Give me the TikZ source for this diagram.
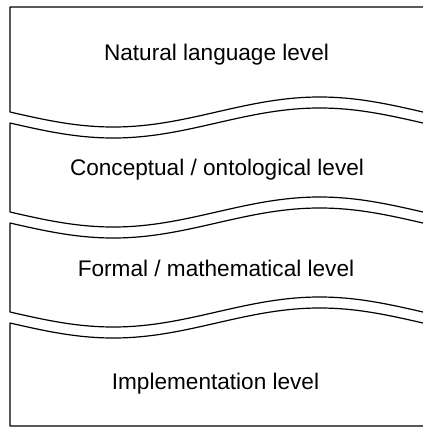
\documentclass[tikz,border=0pt]{standalone}
\usepackage{fontspec}
\setmainfont{Liberation Sans}
\begin{document}
\begin{tikzpicture}[x=1bp,y=-1bp,
  edge/.style={line width=1.2bp, black, line join=round},
  leveltext/.style={anchor=base, inner sep=0pt, font=\fontsize{22.6bp}{27bp}\selectfont},
  declare function={wave(\t)=15*sin(0.871671*(\t-10));}]
\useasboundingbox[fill=white] (0,0) rectangle (423,429);

% top band
\draw[edge] (423,7) -- (10,7) -- (10,112)
  -- plot[domain=10:423,samples=90,smooth] (\x,{112+wave(\x)});
% second band
\draw[edge] plot[domain=423:10,samples=90,smooth] (\x,{123+wave(\x)})
  -- (10,212) -- plot[domain=10:423,samples=90,smooth] (\x,{212+wave(\x)});
% third band
\draw[edge] plot[domain=423:10,samples=90,smooth] (\x,{223+wave(\x)})
  -- (10,312) -- plot[domain=10:423,samples=90,smooth] (\x,{312+wave(\x)});
% bottom band
\draw[edge] plot[domain=423:10,samples=90,smooth] (\x,{323+wave(\x)})
  -- (10,426) -- (423,426);

\node[leveltext] (natural) at (216.5,60) {Natural language level};
\node[leveltext] (conceptual) at (217,175) {Conceptual / ontological level};
\node[leveltext] (formal) at (216,276) {Formal / mathematical level};
\node[leveltext] (implementation) at (215.5,389) {Implementation level};
\end{tikzpicture}
\end{document}
